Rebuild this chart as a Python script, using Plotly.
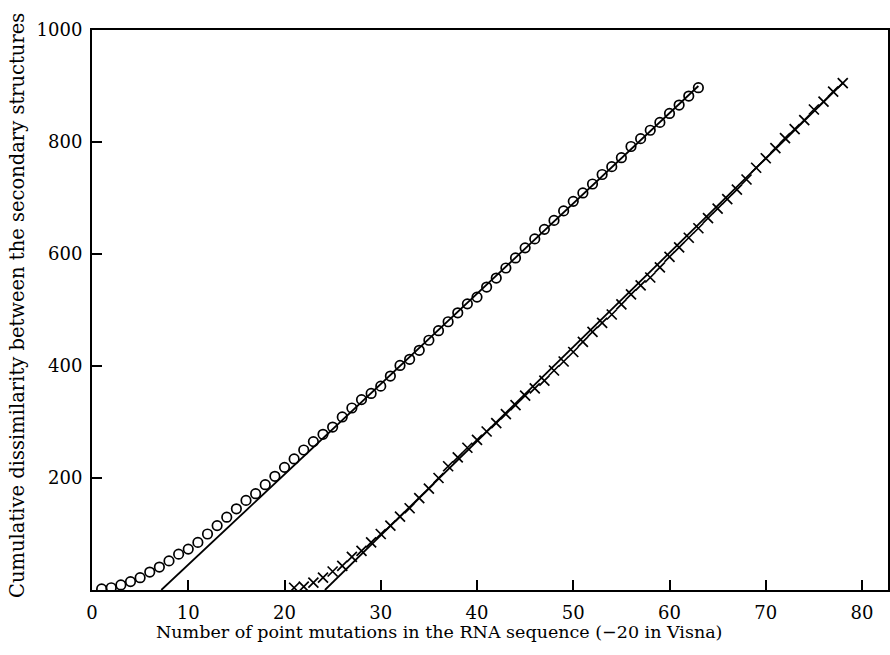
import plotly.graph_objects as go

# Circles series (x = number of point mutations, y = cumulative dissimilarity)
circle_x = list(range(1, 64))
circle_y = [2, 4, 9, 15, 22, 32, 41, 52, 64, 73,
            85, 100, 115, 130, 145, 160, 172, 188, 203, 219,
            234, 250, 265, 278, 291, 309, 325, 340, 351, 364,
            382, 401, 412, 428, 446, 463, 479, 495, 511, 523,
            541, 557, 575, 593, 611, 627, 644, 660, 677, 694,
            709, 725, 742, 756, 772, 792, 806, 821, 835, 851,
            866, 882, 897]

# Crosses series (Visna, shifted by -20)
cross_x = list(range(21, 79))
cross_y = [4, 6, 13, 22, 33, 43, 59, 70, 85, 100,
           115, 131, 146, 164, 181, 200, 221, 237, 254, 268,
           283, 298, 314, 330, 347, 360, 374, 392, 408, 425,
           443, 461, 477, 492, 510, 528, 544, 558, 576, 595,
           612, 629, 646, 664, 681, 698, 715, 733, 754, 771,
           789, 807, 823, 839, 858, 872, 890, 905]

# Fitted straight lines (end points)
circle_fit_x = [7.2, 63]
circle_fit_y = [0, 900]
cross_fit_x = [24.2, 78]
cross_fit_y = [0, 905]

x_ticks = [0, 10, 20, 30, 40, 50, 60, 70, 80]
y_ticks = [200, 400, 600, 800, 1000]

x_title = "Number of point mutations in the RNA sequence (\u221220 in Visna)"
y_title = "Cumulative dissimilarity between the secondary structures"

FONT = "DejaVu Serif"

fig = go.Figure()
fig.add_trace(go.Scatter(x=circle_fit_x, y=circle_fit_y, mode="lines",
                         line=dict(color="black", width=1.8), showlegend=False))
fig.add_trace(go.Scatter(x=cross_fit_x, y=cross_fit_y, mode="lines",
                         line=dict(color="black", width=1.8), showlegend=False))
fig.add_trace(go.Scatter(x=circle_x, y=circle_y, mode="markers",
                         marker=dict(symbol="circle-open", size=9.5, color="black",
                                     line=dict(width=1.7)),
                         showlegend=False))
fig.add_trace(go.Scatter(x=cross_x, y=cross_y, mode="markers",
                         marker=dict(symbol="x-thin-open", size=10, color="black",
                                     line=dict(width=1.7, color="black")),
                         showlegend=False))

fig.update_layout(
    width=890, height=655,
    margin=dict(l=92, r=0, t=30, b=65),
    paper_bgcolor="white", plot_bgcolor="white",
    font=dict(family=FONT, size=18, color="black"),
    xaxis=dict(range=[0, 82.7], tickvals=x_ticks, ticks="inside", ticklen=10,
               tickwidth=1.5, tickcolor="black", showline=True, linewidth=2,
               linecolor="black", mirror=True, showgrid=False, zeroline=False,
               ticklabelstandoff=5, tickfont=dict(family=FONT, size=18)),
    yaxis=dict(range=[0, 1000], tickvals=y_ticks, ticks="inside", ticklen=10,
               tickwidth=1.5, tickcolor="black", showline=True, linewidth=2,
               linecolor="black", mirror=True, showgrid=False, zeroline=False,
               ticklabelstandoff=4, tickfont=dict(family=FONT, size=18)),
    annotations=[
        dict(text=x_title, xref="paper", yref="paper", x=0.436, y=-0.075,
             showarrow=False, xanchor="center", yanchor="middle",
             font=dict(family=FONT, size=17.5)),
        dict(text=y_title, xref="paper", yref="paper", x=-0.093, y=0.509,
             showarrow=False, xanchor="center", yanchor="middle", textangle=-90,
             font=dict(family=FONT, size=19.5)),
    ],
)

fig.write_html("out.html")
